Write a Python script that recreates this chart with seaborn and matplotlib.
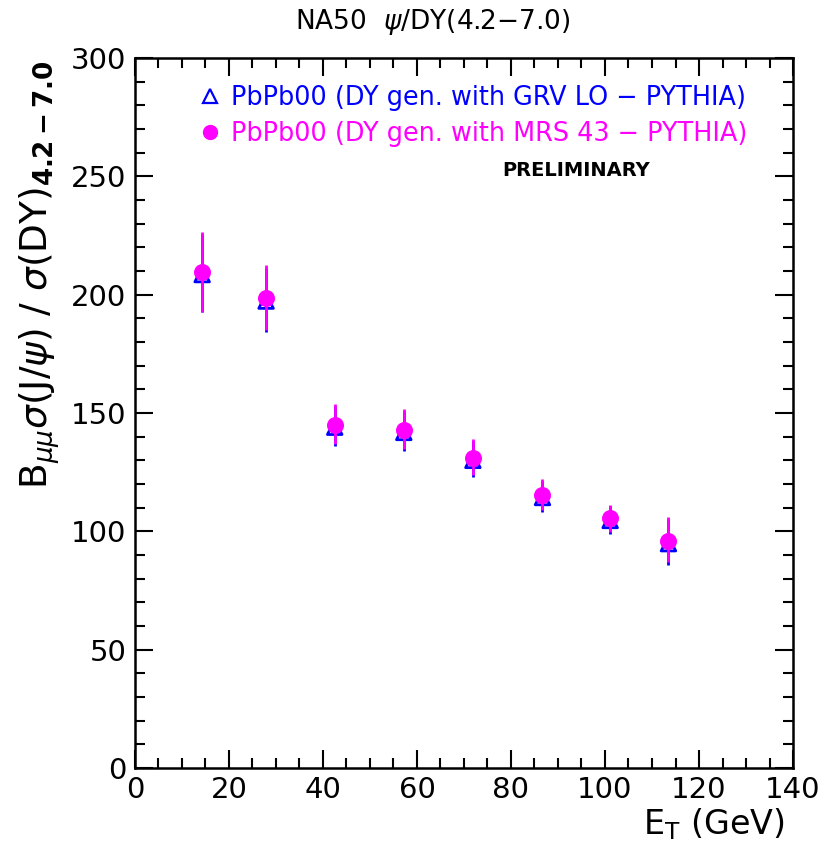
import numpy as np
import pandas as pd
import matplotlib
matplotlib.use('Agg')
import matplotlib.pyplot as plt
from matplotlib.ticker import MultipleLocator
from matplotlib.lines import Line2D
import seaborn as sns

# E_T bins (GeV)
et = [14.3, 27.9, 42.5, 57.2, 71.9, 86.7, 101.1, 113.5]

# GRV LO - PYTHIA
grv_y = [208.5, 197.3, 144.0, 141.8, 130.0, 114.3, 104.6, 94.8]
grv_up = [17.0, 13.8, 8.9, 8.9, 8.3, 7.0, 5.9, 10.5]
grv_dn = [16.0, 13.0, 7.8, 8.0, 7.0, 6.0, 5.6, 9.0]

# MRS 43 - PYTHIA
mrs_y = [209.7, 198.4, 144.9, 142.8, 131.0, 115.3, 105.7, 95.9]
mrs_up = [17.0, 14.0, 8.7, 8.7, 8.0, 6.8, 5.6, 10.3]
mrs_dn = [17.0, 13.2, 7.8, 8.2, 7.0, 6.1, 5.9, 9.0]

labels = ['PbPb00 (DY gen. with GRV LO \u2212 PYTHIA)',
          'PbPb00 (DY gen. with MRS 43 \u2212 PYTHIA)']

sns.set_theme(style='ticks')
plt.rcParams['font.family'] = ['DejaVu Sans']
plt.rcParams['text.color'] = 'black'
plt.rcParams['xtick.color'] = 'black'
plt.rcParams['ytick.color'] = 'black'

df = pd.DataFrame({
    'et': et * 2,
    'ratio': grv_y + mrs_y,
    'set': [labels[0]] * len(et) + [labels[1]] * len(et),
})

fig = plt.figure(figsize=(8.33, 8.46), dpi=100)
ax = fig.add_axes([0.162, 0.0922, 0.790, 0.8392])

ax.errorbar(et, grv_y, yerr=[grv_dn, grv_up], fmt='none', ecolor='blue', elinewidth=2, capsize=0, zorder=2)
sns.scatterplot(data=df[df['set'] == labels[0]], x='et', y='ratio', marker='^', s=110,
                facecolor='none', edgecolor='blue', linewidth=2, ax=ax, legend=False, zorder=3)
ax.errorbar(et, mrs_y, yerr=[mrs_dn, mrs_up], fmt='none', ecolor='magenta', elinewidth=2, capsize=0, zorder=4)
sns.scatterplot(data=df[df['set'] == labels[1]], x='et', y='ratio', marker='o', s=150,
                color='magenta', edgecolor='magenta', linewidth=0, ax=ax, legend=False, zorder=5)

ax.set_xlim(0, 140)
ax.set_ylim(0, 300)
ax.xaxis.set_major_locator(MultipleLocator(20))
ax.xaxis.set_minor_locator(MultipleLocator(5))
ax.yaxis.set_major_locator(MultipleLocator(50))
ax.yaxis.set_minor_locator(MultipleLocator(10))
ax.tick_params(which='both', direction='in', top=True, right=True, width=1.5, colors='black')
ax.tick_params(which='major', length=13, labelsize=21, pad=6)
ax.tick_params(which='minor', length=7)
for s in ax.spines.values():
    s.set_linewidth(1.8)
    s.set_color('black')

ax.set_xlabel('')
ax.set_ylabel('')
fig.text(0.942, 0.005, r'E$_{\mathregular{T}}$ (GeV)', ha='right', va='bottom', fontsize=24)
fig.text(0.048, 0.675, r'B$_{\mu\mu}$$\sigma$(J/$\psi$) / $\sigma$(DY)$_{\mathbf{4.2-7.0}}$',
         rotation=90, ha='center', va='center', fontsize=27)
fig.text(0.52, 0.974, r'NA50  $\psi$/DY(4.2$-$7.0)', ha='center', va='center', fontsize=19)

handles = [Line2D([], [], marker='^', linestyle='none', markerfacecolor='none',
                  markeredgecolor='blue', markeredgewidth=1.6, markersize=10),
           Line2D([], [], marker='o', linestyle='none', color='magenta', markersize=10)]
leg = ax.legend(handles, labels, loc='upper left', bbox_to_anchor=(0.06, 0.995), frameon=False,
                fontsize=18.4, labelcolor=['blue', 'magenta'], handletextpad=0.3,
                handlelength=1.0, labelspacing=0.4)
ax.text(0.67, 0.842, 'PRELIMINARY', transform=ax.transAxes, ha='center', va='center',
        fontsize=14, fontweight='bold')

fig.savefig('out.png', dpi=100, facecolor='white')
